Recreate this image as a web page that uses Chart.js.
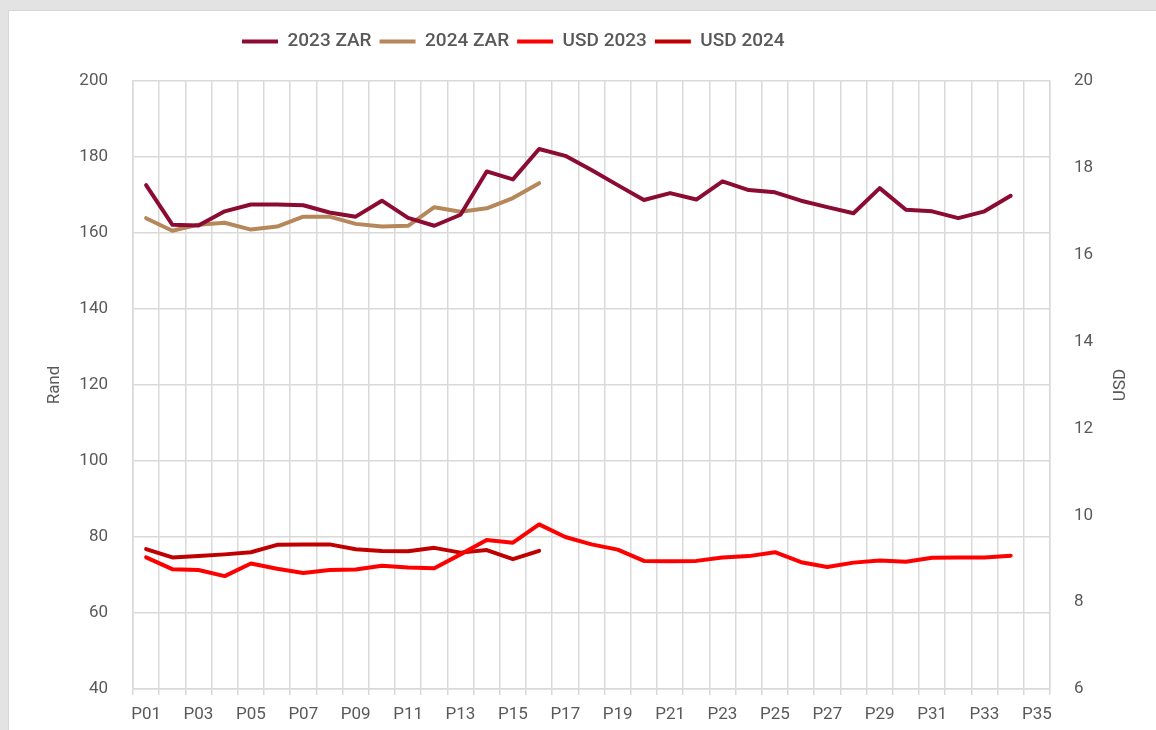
<!DOCTYPE html>
<html>
<head>
<meta charset="utf-8">
<script src="https://cdn.jsdelivr.net/npm/chart.js@4.4.1/dist/chart.umd.min.js"></script>
<style>
    html, body { margin: 0; padding: 0; }
    body { width: 1156px; height: 730px; background: #e3e3e3; overflow: hidden; position: relative; }
    #card { position: absolute; left: 8px; top: 10px; width: 1148px; height: 720px; background: #ffffff; border-left: 1px solid #d6d6d6; border-top: 1px solid #d6d6d6; box-sizing: border-box; }
    #price_chart { position: absolute; left: -1px; top: -1px; }
</style>
</head>
<body>
<div id="card"><canvas id="price_chart" width="1148" height="720"></canvas></div>
<script>
// 期間ラベル
const periods = ['P01','P02','P03','P04','P05','P06','P07','P08','P09','P10','P11','P12',
    'P13','P14','P15','P16','P17','P18','P19','P20','P21','P22','P23','P24',
    'P25','P26','P27','P28','P29','P30','P31','P32','P33','P34','P35'];

// 左軸(Rand)
const zar_2023 = [172.6, 162.2, 162.0, 165.7, 167.5, 167.5, 167.3, 165.4, 164.3, 168.5, 164.0, 161.9,
    164.8, 176.2, 174.1, 182.1, 180.3, 176.6, 172.6, 168.7, 170.5, 168.8, 173.6, 171.3,
    170.7, 168.5, 166.8, 165.2, 171.8, 166.1, 165.7, 163.9, 165.7, 169.8];
const zar_2024 = [163.9, 160.6, 162.2, 162.7, 160.9, 161.7, 164.3, 164.3, 162.4, 161.7, 161.9, 166.8,
    165.6, 166.5, 169.2, 173.1];

// 右軸(USD)
const usd_2023 = [9.03, 8.76, 8.74, 8.60, 8.89, 8.77, 8.67, 8.74, 8.75, 8.84, 8.80, 8.78,
    9.10, 9.43, 9.37, 9.79, 9.50, 9.33, 9.21, 8.95, 8.94, 8.95, 9.03, 9.06,
    9.15, 8.92, 8.81, 8.91, 8.96, 8.93, 9.02, 9.03, 9.03, 9.07];
const usd_2024 = [9.22, 9.03, 9.06, 9.10, 9.15, 9.32, 9.33, 9.33, 9.22, 9.18, 9.17, 9.25,
    9.14, 9.20, 8.99, 9.18];

// 目盛
const rand_ticks = [40, 60, 80, 100, 120, 140, 160, 180, 200];
const usd_ticks = [6, 8, 10, 12, 14, 16, 18, 20];

const FONT = "'Roboto', sans-serif";
const TEXT_COLOR = '#595959';
const GRID_COLOR = '#d9d9d9';

// 折れ線の設定
function lineSet(label, data, color, axis) {
    return {
        type: 'line',
        label: label,
        data: data,
        borderColor: color,
        backgroundColor: color,
        borderWidth: 4,
        borderCapStyle: 'round',
        borderJoinStyle: 'round',
        pointRadius: 0,
        pointHoverRadius: 0,
        tension: 0,
        yAxisID: axis,
    };
}

// 凡例の位置を調整、右軸タイトルを描く
const layoutTweak = {
    id: 'layoutTweak',
    afterLayout(chart) {
        const legend = chart.legend;
        // 凡例の開始位置
        legend.left = 226;
        legend.top -= 20;
        legend.bottom -= 20;
    },
    afterDraw(chart) {
        const ctx = chart.ctx;
        const area = chart.chartArea;
        ctx.save();
        ctx.fillStyle = TEXT_COLOR;
        ctx.font = '17px ' + FONT;
        ctx.textAlign = 'center';
        ctx.textBaseline = 'middle';
        ctx.translate(1113, (area.top + area.bottom) / 2);
        ctx.rotate(-Math.PI / 2);
        ctx.fillText('USD', 0, 0);
        ctx.restore();
    }
};

function createChart() {
    const ctx = document.getElementById('price_chart').getContext('2d');
    new Chart(ctx, {
        data: {
            labels: periods,
            datasets: [
                lineSet('2023 ZAR', zar_2023, '#8c0b33', 'y'),
                lineSet('2024 ZAR', zar_2024, '#b5875a', 'y'),
                lineSet('USD 2023', usd_2023, '#ff0000', 'y1'),
                lineSet('USD 2024', usd_2024, '#c00000', 'y1'),
            ]
        },
        options: {
            responsive: false,
            animation: false,
            layout: { padding: { top: 34, left: 0, right: 0, bottom: 0 } },
            plugins: {
                legend: {
                    position: 'top',
                    align: 'start',
                    labels: {
                        usePointStyle: true,
                        pointStyle: 'line',
                        pointStyleWidth: 36,
                        boxHeight: 4,
                        padding: 8,
                        color: TEXT_COLOR,
                        font: { family: FONT, size: 19, weight: '500' }
                    }
                },
                tooltip: { enabled: false }
            },
            scales: {
                x: {
                    offset: true,
                    grid: { color: GRID_COLOR, lineWidth: 1.5, offset: true, drawTicks: true, tickLength: 6 },
                    border: { color: GRID_COLOR, width: 1.5 },
                    ticks: {
                        autoSkip: false,
                        maxRotation: 0,
                        padding: 10,
                        color: TEXT_COLOR,
                        font: { family: FONT, size: 17 },
                        callback: function(value, index) {
                            return index % 2 === 0 ? periods[index] : '';
                        }
                    },
                    afterFit: function(scale) { scale.height = 41; }
                },
                y: {
                    position: 'left',
                    min: rand_ticks[0],
                    max: rand_ticks[rand_ticks.length - 1],
                    grid: { color: GRID_COLOR, lineWidth: 1.5, drawTicks: false },
                    border: { color: GRID_COLOR, width: 1.5 },
                    ticks: {
                        stepSize: 20,
                        padding: 25,
                        color: TEXT_COLOR,
                        font: { family: FONT, size: 17 }
                    },
                    title: {
                        display: true,
                        text: 'Rand',
                        color: TEXT_COLOR,
                        font: { family: FONT, size: 17 },
                        padding: { top: 37, bottom: 0 }
                    },
                    afterFit: function(scale) { scale.width = 125; }
                },
                y1: {
                    position: 'right',
                    min: usd_ticks[0],
                    max: usd_ticks[usd_ticks.length - 1],
                    grid: { drawOnChartArea: false, drawTicks: false },
                    border: { color: GRID_COLOR, width: 1.5 },
                    ticks: {
                        stepSize: 2,
                        padding: 24,
                        color: TEXT_COLOR,
                        font: { family: FONT, size: 17 }
                    },
                    afterFit: function(scale) { scale.width = 106; }
                }
            }
        },
        plugins: [layoutTweak]
    });
}

createChart();
</script>
</body>
</html>
